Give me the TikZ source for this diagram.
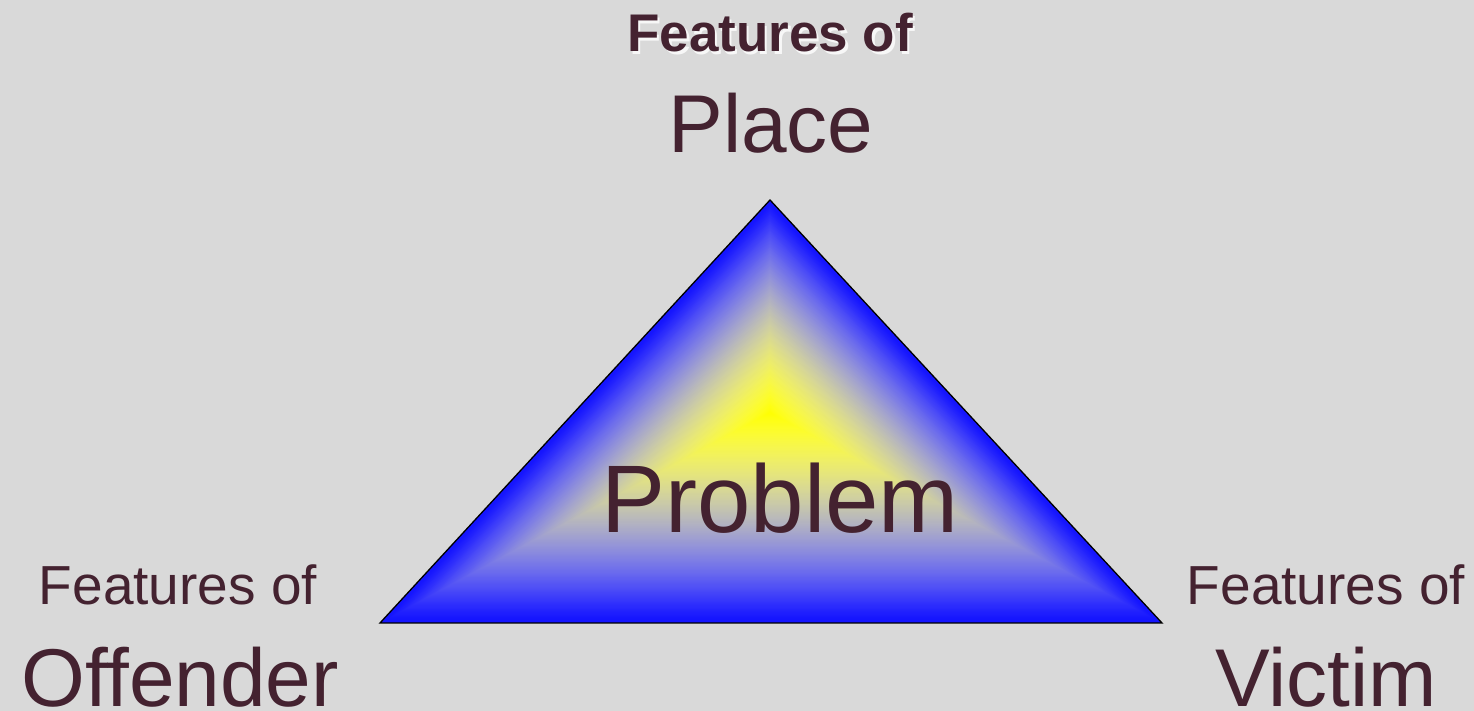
\documentclass[tikz,border=0pt]{standalone}
\usepackage{fontspec}
\setmainfont{Liberation Sans}
\usetikzlibrary{calc}
\definecolor{bg}{RGB}{217,217,217}
\definecolor{txt}{RGB}{68,34,48}
\tikzset{
  lbl/.style={inner sep=0pt, outer sep=0pt, anchor=base, text=txt},
  small/.style={lbl, font=\fontsize{55}{55}\selectfont},
  big/.style={lbl, font=\fontsize{82}{82}\selectfont},
  boldsmall/.style={lbl, font=\fontsize{53}{53}\selectfont\bfseries},
}
\begin{document}
\begin{tikzpicture}[x=1pt,y=1pt]
\useasboundingbox (0,0) rectangle (1474,711);
\fill[bg] (0,0) rectangle (1474,711);
% triangle vertices and gradient centre
\coordinate (A) at (770,511);
\coordinate (B) at (380,88);
\coordinate (C) at (1162,88);
\coordinate (O) at (770,298);
% path gradient (blue edge -> yellow centre): nested triangles shrinking to the centre
\foreach \i in {0,...,179}{
  \pgfmathsetmacro\s{1-\i/180}
  \pgfmathsetmacro\u{\i/180}
  \pgfmathsetmacro\t{3*\u*\u-2*\u*\u*\u}
  \pgfmathtruncatemacro\rr{255*((\t+(1-\t)*0.004)^(0.4545))}
  \pgfmathtruncatemacro\bb{255*((1-\t)+0.00001)^(0.4545)}
  \definecolor{cc}{RGB}{\rr,\rr,\bb}
  \fill[cc] ($(O)!\s!(A)$) -- ($(O)!\s!(B)$) -- ($(O)!\s!(C)$) -- cycle;
}
\draw[black, line width=1.3pt, line join=miter] (A) -- (B) -- (C) -- cycle;
% texts
\node[boldsmall, text=white, opacity=0.8] (topshadow) at (772.5,656.5) {Features of};
\node[boldsmall] (topf) at (770,659) {Features of};
\node[big] (place) at (771,558) {Place};
\node[lbl, font=\fontsize{96}{96}\selectfont] (problem) at (780,178) {Problem};
\node[small] (leftf) at (178,106) {Features of};
\node[big] (offender) at (180,4) {Offender};
\node[small] (rightf) at (1326,106) {Features of};
\node[big] (victim) at (1326,4) {Victim};
\end{tikzpicture}
\end{document}
